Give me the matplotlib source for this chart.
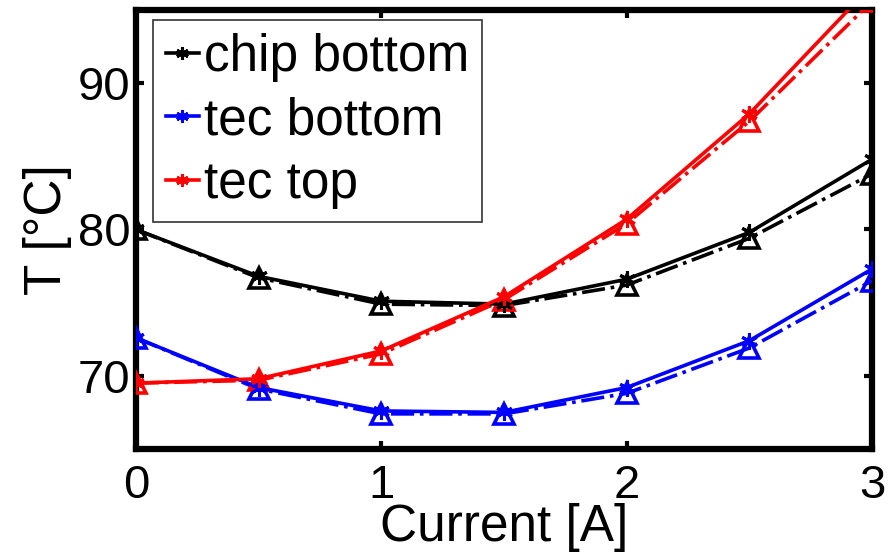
import matplotlib.pyplot as plt
import numpy as np

plt.rcParams["font.family"] = ["Liberation Sans", "DejaVu Sans"]

current = [0, 0.5, 1, 1.5, 2, 2.5, 3]

# measured (solid, asterisk markers)
chip_bottom = [80.0, 76.8, 75.1, 74.9, 76.6, 79.8, 84.8]
tec_bottom = [72.6, 69.2, 67.6, 67.5, 69.2, 72.4, 77.3]
tec_top = [69.5, 69.8, 71.7, 75.4, 80.7, 87.9, 96.7]

# model (dash-dot, open triangles)
chip_bottom_sim = [80.0, 76.7, 74.9, 74.8, 76.2, 79.4, 83.8]
tec_bottom_sim = [72.6, 69.1, 67.4, 67.4, 68.8, 71.9, 76.5]
tec_top_sim = [69.5, 69.7, 71.5, 75.2, 80.4, 87.4, 95.6]

labels = ["chip bottom", "tec bottom", "tec top"]
colors = ["black", "blue", "red"]


def main():
    fig = plt.figure(figsize=(8.88, 5.55), dpi=100)
    ax = fig.add_axes([0.153, 0.191, 0.829, 0.791])

    meas = [chip_bottom, tec_bottom, tec_top]
    sim = [chip_bottom_sim, tec_bottom_sim, tec_top_sim]
    for y, ys, c, lab in zip(meas, sim, colors, labels):
        ax.plot(current, ys, "-.", color=c, lw=2.6, marker="^", ms=15,
                mfc="none", mew=2.6, zorder=3)
        ax.plot(current, y, "-", color=c, lw=2.6, marker=(6, 2, 0), ms=12,
                mew=2.2, label=lab, zorder=4)

    ax.set_xlim(0, 3)
    ax.set_ylim(65, 95)
    ax.set_xticks([0, 1, 2, 3])
    ax.set_yticks([70, 80, 90])
    ax.tick_params(direction="in", length=6, width=3, labelsize=34,
                   top=True, right=True)
    ax.tick_params(axis="x", pad=11)
    ax.tick_params(axis="y", pad=4)
    for s in ax.spines.values():
        s.set_linewidth(4.5)

    ax.set_xlabel("Current [A]", fontsize=37, labelpad=-4)
    ax.set_ylabel("T [°C]", fontsize=37, labelpad=4)

    leg = ax.legend(loc="upper left", bbox_to_anchor=(0.023, 0.977),
                    fontsize=37, frameon=True, fancybox=False,
                    handlelength=0.65, handletextpad=0.1, borderpad=0.25,
                    labelspacing=0.28, borderaxespad=0)
    leg.get_frame().set_edgecolor("black")
    leg.get_frame().set_linewidth(1.2)
    for h in leg.get_lines():
        h.set_markersize(9)

    fig.savefig("out.png")
    plt.close(fig)


if __name__ == "__main__":
    main()
